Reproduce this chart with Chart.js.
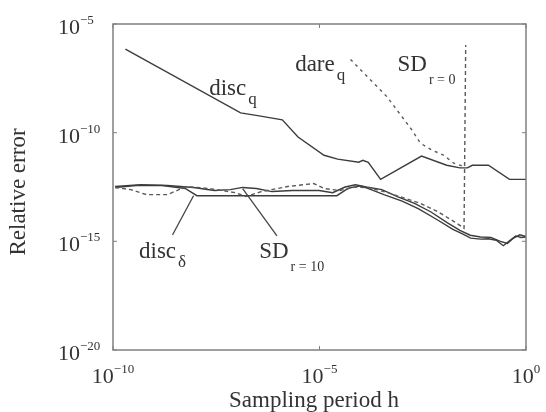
<!DOCTYPE html>
<html>
<head>
<meta charset="utf-8">
<script src="https://cdn.jsdelivr.net/npm/chart.js@4/dist/chart.umd.min.js"></script>
<style>
  html, body { margin: 0; padding: 0; background: #fff; }
  canvas { display: block; }
</style>
</head>
<body>
<canvas id="c" width="546" height="412"></canvas>
<script>
// Exponents (log10) of the sampling period h and of the relative error.
const discQ_logH   = [-9.70, -6.91, -6.46, -5.90, -5.52, -4.89, -4.56, -4.05, -3.95, -3.82, -3.52, -2.53, -1.92, -1.60, -1.42, -1.30, -0.91, -0.40, 0.00];
const discQ_logErr = [-6.16, -9.09, -9.23, -9.41, -10.20, -11.04, -11.22, -11.36, -11.27, -11.36, -12.15, -11.08, -11.50, -11.62, -11.62, -11.50, -11.50, -12.15, -12.15];

const dareQ_logH   = [-4.25, -3.37, -2.76, -2.56, -2.28, -2.00, -1.75, -1.47];
const dareQ_logErr = [-6.63, -8.34, -9.88, -10.48, -10.80, -11.03, -11.40, -11.58];

const sdR0_logH   = [-9.95, -9.57, -9.19, -8.68, -8.23, -7.67, -7.04, -6.78, -6.41, -5.77, -5.14, -4.89, -4.51, -4.13, -3.77, -3.37, -2.96, -2.56, -2.15, -1.75, -1.50, -1.46];
const sdR0_logErr = [-12.52, -12.62, -12.85, -12.85, -12.48, -12.57, -12.76, -12.94, -12.71, -12.48, -12.34, -12.57, -12.66, -12.50, -12.55, -12.75, -13.00, -13.25, -13.62, -14.08, -14.40, -5.97];

const discD_logH   = [-9.95, -9.44, -8.81, -8.25, -7.97, -7.29, -6.15, -5.14, -4.58, -4.30, -4.00, -3.75, -3.44, -3.00, -2.61, -2.20, -1.77, -1.55, -1.34, -1.10, -0.91, -0.72, -0.55, -0.40, -0.25, -0.12, 0.00];
const discD_logErr = [-12.52, -12.43, -12.43, -12.57, -12.90, -12.90, -12.90, -12.90, -12.90, -12.55, -12.45, -12.62, -12.85, -13.15, -13.50, -13.95, -14.45, -14.65, -14.85, -14.90, -14.88, -14.95, -15.20, -14.98, -14.75, -14.82, -14.80];

const sdR10_logH   = [-9.95, -9.32, -8.68, -8.05, -7.54, -7.16, -6.86, -6.53, -6.15, -5.65, -5.01, -4.68, -4.38, -4.13, -3.87, -3.49, -3.10, -2.70, -2.30, -1.90, -1.60, -1.35, -1.10, -0.85, -0.62, -0.45, -0.30, -0.15, 0.00];
const sdR10_logErr = [-12.48, -12.39, -12.43, -12.52, -12.66, -12.62, -12.52, -12.57, -12.71, -12.66, -12.66, -12.76, -12.50, -12.40, -12.50, -12.62, -12.95, -13.25, -13.65, -14.15, -14.50, -14.72, -14.80, -14.82, -15.00, -15.10, -14.85, -14.70, -14.78];

// Tick exponents on each axis
const xTickExps = [-10, -5, 0];
const yTickExps = [-20, -15, -10, -5];

// Curve labels: [main text, subscript, log10 h, log10 err of baseline start]
const curveLabels = [
  ['disc', 'q', -7.67, -8.25],
  ['dare', 'q', -5.59, -7.14],
  ['SD', 'r = 0', -3.11, -7.14],
  ['disc', 'δ', -9.37, -15.78],
  ['SD', 'r = 10', -6.46, -15.78]
];
// Leader lines from labels to curves: [logH1, logErr1, logH2, logErr2]
const leaders = [
  [-8.56, -14.71, -8.05, -12.90],
  [-6.03, -14.75, -6.86, -12.57]
];

const toPts = (lh, le) => lh.map((v, i) => ({ x: Math.pow(10, v), y: Math.pow(10, le[i]) }));

const SERIF = '"Liberation Serif", "DejaVu Serif", serif';
const INK = '#333';

const decorations = {
  id: 'decorations',
  afterDraw(chart) {
    const { ctx, chartArea: a, scales: { x, y } } = chart;
    ctx.save();

    // frame
    ctx.strokeStyle = '#808080';
    ctx.lineWidth = 1.5;
    ctx.strokeRect(a.left, a.top, a.right - a.left, a.bottom - a.top);

    // inward ticks on all four sides
    ctx.lineWidth = 1;
    const tl = 4;
    xTickExps.forEach(e => {
      const px = x.getPixelForValue(Math.pow(10, e));
      ctx.beginPath();
      ctx.moveTo(px, a.bottom); ctx.lineTo(px, a.bottom - tl);
      ctx.moveTo(px, a.top); ctx.lineTo(px, a.top + tl);
      ctx.stroke();
    });
    yTickExps.forEach(e => {
      const py = y.getPixelForValue(Math.pow(10, e));
      ctx.beginPath();
      ctx.moveTo(a.left, py); ctx.lineTo(a.left + tl, py);
      ctx.moveTo(a.right, py); ctx.lineTo(a.right - tl, py);
      ctx.stroke();
    });

    // powers-of-ten tick labels
    ctx.fillStyle = INK;
    ctx.textBaseline = 'alphabetic';
    const baseFont = '22px ' + SERIF, supFont = '13px ' + SERIF;
    const supText = e => (e < 0 ? '\u2212' : '') + Math.abs(e);
    const measure = e => {
      ctx.font = baseFont; const w1 = ctx.measureText('10').width;
      ctx.font = supFont; const w2 = ctx.measureText(supText(e)).width;
      return [w1, w2];
    };
    const drawPow = (e, left, base) => {
      const [w1] = measure(e);
      ctx.font = baseFont; ctx.textAlign = 'left';
      ctx.fillText('10', left, base);
      ctx.font = supFont;
      ctx.fillText(supText(e), left + w1, base - 10);
    };
    xTickExps.forEach(e => {
      const px = x.getPixelForValue(Math.pow(10, e));
      const [w1, w2] = measure(e);
      drawPow(e, px - (w1 + w2) / 2, a.bottom + 33);
    });
    yTickExps.forEach(e => {
      const py = y.getPixelForValue(Math.pow(10, e));
      drawPow(e, 58, py + 10);
    });

    // axis titles
    ctx.font = '23px ' + SERIF;
    ctx.textAlign = 'center';
    ctx.fillText('Sampling period h', 314, 407);
    ctx.save();
    ctx.translate(25, (a.top + a.bottom) / 2 + 5);
    ctx.rotate(-Math.PI / 2);
    ctx.fillText('Relative error', 0, 0);
    ctx.restore();

    // curve labels with subscripts
    ctx.textAlign = 'left';
    curveLabels.forEach(([main, sub, lh, le]) => {
      const px = x.getPixelForValue(Math.pow(10, lh));
      const py = y.getPixelForValue(Math.pow(10, le));
      ctx.font = '23px ' + SERIF;
      ctx.fillText(main, px, py);
      const w = ctx.measureText(main).width;
      const small = sub.length > 1;
      ctx.font = (small ? '14px ' : '17px ') + SERIF;
      ctx.fillText(sub, px + w + 2, py + (small ? 13 : 9));
    });

    // leader lines
    ctx.strokeStyle = '#444';
    ctx.lineWidth = 1.3;
    leaders.forEach(([h1, e1, h2, e2]) => {
      ctx.beginPath();
      ctx.moveTo(x.getPixelForValue(Math.pow(10, h1)), y.getPixelForValue(Math.pow(10, e1)));
      ctx.lineTo(x.getPixelForValue(Math.pow(10, h2)), y.getPixelForValue(Math.pow(10, e2)));
      ctx.stroke();
    });

    ctx.restore();
  }
};

const solid = (label, data) => ({ label, data, borderColor: '#3c3c3c', borderWidth: 1.4, pointRadius: 0, tension: 0, fill: false });
const dashed = (label, data, dash) => ({ label, data, borderColor: '#5a5a5a', borderWidth: 1.4, borderDash: dash, pointRadius: 0, tension: 0, fill: false });

new Chart(document.getElementById('c'), {
  type: 'line',
  data: {
    datasets: [
      solid('disc_q', toPts(discQ_logH, discQ_logErr)),
      dashed('dare_q', toPts(dareQ_logH, dareQ_logErr), [3, 4]),
      dashed('SD_r=0', toPts(sdR0_logH, sdR0_logErr), [4, 3]),
      solid('disc_delta', toPts(discD_logH, discD_logErr)),
      solid('SD_r=10', toPts(sdR10_logH, sdR10_logErr))
    ]
  },
  options: {
    responsive: false,
    animation: false,
    layout: { padding: { left: 113, top: 24, right: 20, bottom: 62 } },
    plugins: { legend: { display: false }, tooltip: { enabled: false } },
    scales: {
      x: { type: 'logarithmic', min: 1e-10, max: 1, display: false },
      y: { type: 'logarithmic', min: 1e-20, max: 1e-5, display: false }
    }
  },
  plugins: [decorations]
});
</script>
</body>
</html>
